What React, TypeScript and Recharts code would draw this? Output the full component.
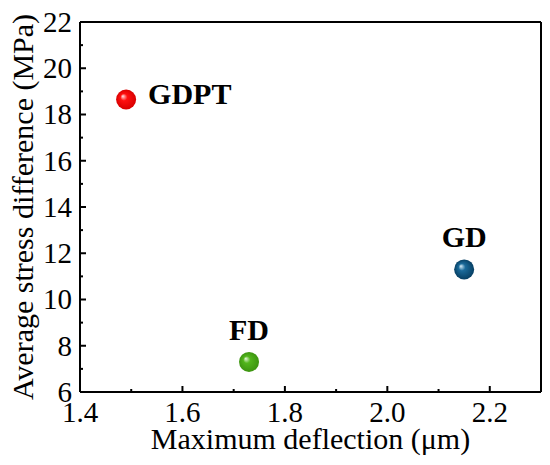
import React from 'react';
import { ScatterChart, Scatter, XAxis, YAxis, ReferenceLine } from 'recharts';

const xTicks = [1.4, 1.5, 1.6, 1.7, 1.8, 1.9, 2.0, 2.1, 2.2, 2.3];
const xMajor = ['1.4', '1.6', '1.8', '2.0', '2.2'];
const yTicks = [6, 7, 8, 9, 10, 11, 12, 13, 14, 15, 16, 17, 18, 19, 20, 21, 22];

const gdpt = [{ name: 'GDPT', x: 1.49, y: 18.65 }];
const gd = [{ name: 'GD', x: 2.15, y: 11.3 }];
const fd = [{ name: 'FD', x: 1.73, y: 7.3 }];

const FONT = 'Liberation Serif';
const txt = { fontFamily: FONT };

const XTick = (props: any) => {
  const { x, y, payload } = props;
  const label = payload.value.toFixed(1);
  const major = xMajor.includes(label);
  return (
    <g>
      <line x1={x} x2={x} y1={y} y2={y - (major ? 6 : 3)} stroke="#000" strokeWidth={2} />
      {major && (
        <text x={x} y={y + 30} textAnchor="middle" fontSize={29} style={txt} fill="#000">
          {label}
        </text>
      )}
    </g>
  );
};

const YTick = (props: any) => {
  const { x, y, payload } = props;
  const major = payload.value % 2 === 0;
  return (
    <g>
      <line x1={x} x2={x + (major ? 6 : 3)} y1={y} y2={y} stroke="#000" strokeWidth={2} />
      {major && (
        <text x={x - 8} y={y} dy="0.34em" textAnchor="end" fontSize={29} style={txt} fill="#000">
          {payload.value}
        </text>
      )}
    </g>
  );
};

const makeBall = (id: string, side: 'right' | 'top') => (props: any) => {
  const { cx, cy, payload } = props;
  return (
    <g>
      <circle cx={cx} cy={cy} r={10} fill={`url(#${id})`} />
      {side === 'right' ? (
        <text x={cx + 22} y={cy + 5} fontSize={30} fontWeight="bold" style={txt} fill="#000">
          {payload.name}
        </text>
      ) : (
        <text x={cx} y={cy - 22} textAnchor="middle" fontSize={30} fontWeight="bold" style={txt} fill="#000">
          {payload.name}
        </text>
      )}
    </g>
  );
};

const Grad = ({ id, light, mid, dark }: { id: string; light: string; mid: string; dark: string }) => (
  <radialGradient id={id} cx="0.5" cy="0.5" r="0.5" fx="0.33" fy="0.33">
    <stop offset="0%" stopColor={light} />
    <stop offset="35%" stopColor={mid} />
    <stop offset="100%" stopColor={dark} />
  </radialGradient>
);

const YLabel = (props: any) => {
  const { viewBox } = props;
  const cy = viewBox.y + viewBox.height / 2;
  const x = 33;
  return (
    <text x={x} y={cy} transform={`rotate(-90, ${x}, ${cy})`} textAnchor="middle" fontSize={30} style={txt} fill="#000">
      Average stress difference (MPa)
    </text>
  );
};

const XLabel = (props: any) => {
  const { viewBox } = props;
  const cx = viewBox.x + viewBox.width / 2;
  return (
    <text x={cx} y={449} textAnchor="middle" fontSize={30} style={txt} fill="#000">
      Maximum deflection (μm)
    </text>
  );
};

export default function App() {
  return (
    <div style={{ position: 'absolute', left: 0, top: 0, background: '#fff' }}>
      <ScatterChart width={550} height={465} margin={{ top: 22, right: 9, bottom: 0, left: 0 }}>
        <defs>
          <Grad id="ballRed" light="#ffe6e6" mid="#ff1010" dark="#d80000" />
          <Grad id="ballBlue" light="#d8eef8" mid="#1a6a9a" dark="#063f63" />
          <Grad id="ballGreen" light="#e8f8dc" mid="#52b51c" dark="#3c9410" />
        </defs>
        <XAxis
          type="number"
          dataKey="x"
          domain={[1.4, 2.3]}
          ticks={xTicks}
          interval={0}
          tickSize={0}
          tickMargin={0}
          tickLine={false}
          tick={<XTick />}
          height={73}
          axisLine={{ stroke: '#000', strokeWidth: 2 }}
          label={<XLabel />}
        />
        <YAxis
          type="number"
          dataKey="y"
          domain={[6, 22]}
          ticks={yTicks}
          interval={0}
          tickSize={0}
          tickMargin={0}
          tickLine={false}
          tick={<YTick />}
          width={80}
          axisLine={{ stroke: '#000', strokeWidth: 2 }}
          label={<YLabel />}
        />
        <ReferenceLine x={2.3} stroke="#000" strokeWidth={2} />
        <ReferenceLine y={22} stroke="#000" strokeWidth={2} />
        <Scatter data={gdpt} shape={makeBall('ballRed', 'right')} isAnimationActive={false} />
        <Scatter data={gd} shape={makeBall('ballBlue', 'top')} isAnimationActive={false} />
        <Scatter data={fd} shape={makeBall('ballGreen', 'top')} isAnimationActive={false} />
      </ScatterChart>
    </div>
  );
}
